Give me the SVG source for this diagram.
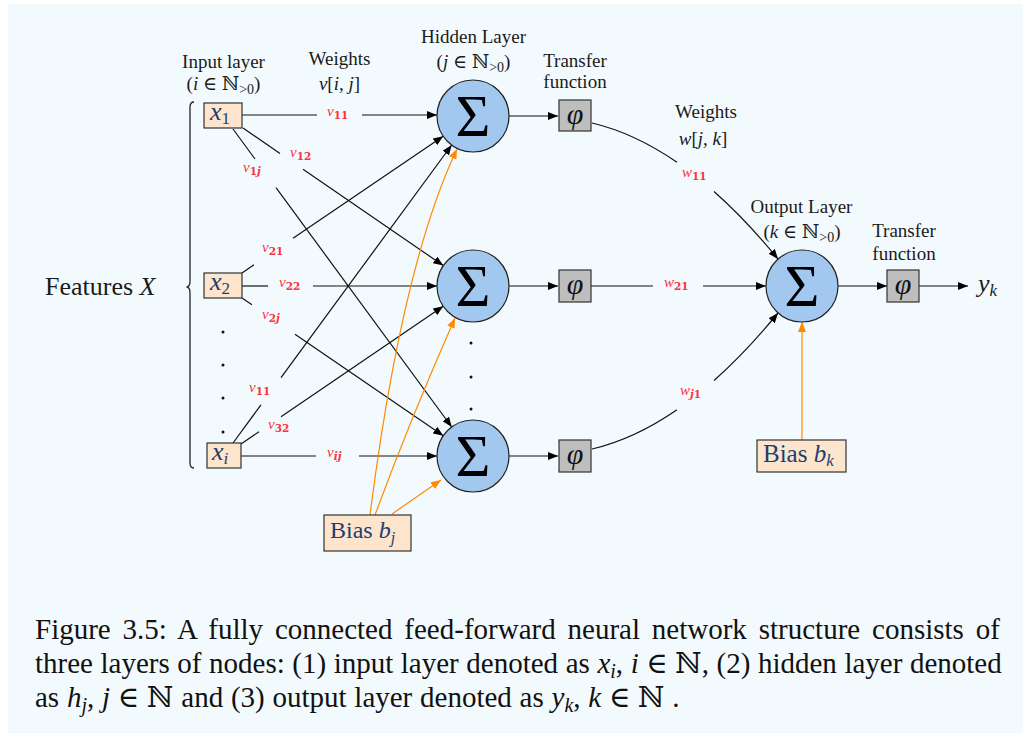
<svg xmlns="http://www.w3.org/2000/svg" width="1023" height="733" viewBox="0 0 1023 733">
  <defs>
    <style>
      .txt { font-family: "Liberation Serif", "DejaVu Serif", serif; fill: #1a1a1a; }
      .hd { font-size: 19px; text-anchor: middle; }
      .it { font-style: italic; }
      .node-in { fill: #fde4cc; stroke: #333; stroke-width: 1.2; }
      .node-h { fill: #a3c8f0; stroke: #222; stroke-width: 1.2; }
      .node-phi { fill: #bebebe; stroke: #333; stroke-width: 1.2; }
      .sig { font-family: "Liberation Serif", "DejaVu Serif", serif; font-size: 60px; text-anchor: middle; fill: #000; }
      .phi { font-family: "Liberation Serif", "DejaVu Serif", serif; font-size: 30px; font-style: italic; text-anchor: middle; fill: #111; }
      .blue { font-family: "Liberation Serif", "DejaVu Serif", serif; fill: #1b3f70; }
      .wl { font-family: "Liberation Serif", "DejaVu Serif", serif; font-size: 15px; font-style: italic; fill: #fa3340; }
      .ws { font-family: "DejaVu Serif", serif; font-size: 10.5px; font-weight: bold; font-style: normal; }
      .wsi { font-family: "DejaVu Serif", serif; font-size: 10.5px; font-weight: bold; font-style: italic; }
      .edge { fill: none; stroke: #111; stroke-width: 1.2; }
      .bias { fill: none; stroke: #ff8a00; stroke-width: 1.2; }
      .cap { font-family: "Liberation Serif", "DejaVu Serif", serif; font-size: 29px; fill: #111; }
    </style>
    <marker id="ah" viewBox="0 0 10 8" refX="10" refY="4" markerWidth="10" markerHeight="8" markerUnits="userSpaceOnUse" orient="auto">
      <path d="M0,0 L10,4 L0,8 z" fill="#000"/>
    </marker>
    <marker id="aho" viewBox="0 0 10 8" refX="10" refY="4" markerWidth="10" markerHeight="8" markerUnits="userSpaceOnUse" orient="auto">
      <path d="M0,0 L10,4 L0,8 z" fill="#ff8a00"/>
    </marker>
  </defs>

  <!-- page panel -->
  <rect x="0" y="0" width="1023" height="733" fill="#ffffff"/>
  <rect x="8" y="4" width="1015" height="729" fill="#f3fafd"/>

  <!-- column headers -->
  <g id="headers" class="txt">
    <text class="txt hd" x="223.5" y="68">Input layer</text>
    <text class="txt hd" x="223.5" y="90">(<tspan class="it">i</tspan> ∈ ℕ<tspan font-size="14" dy="4">&gt;0</tspan><tspan dy="-4">)</tspan></text>
    <text class="txt hd" x="339.5" y="65">Weights</text>
    <text class="txt hd" x="339.5" y="90"><tspan class="it">v</tspan>[<tspan class="it">i, j</tspan>]</text>
    <text class="txt hd" x="473.5" y="43">Hidden Layer</text>
    <text class="txt hd" x="473.5" y="68">(<tspan class="it">j</tspan> ∈ ℕ<tspan font-size="14" dy="4">&gt;0</tspan><tspan dy="-4">)</tspan></text>
    <text class="txt hd" x="575" y="67">Transfer</text>
    <text class="txt hd" x="575" y="88">function</text>
    <text class="txt hd" x="706" y="118">Weights</text>
    <text class="txt hd" x="703" y="145"><tspan class="it">w</tspan>[<tspan class="it">j, k</tspan>]</text>
    <text class="txt hd" x="801.5" y="213">Output Layer</text>
    <text class="txt hd" x="802" y="238">(<tspan class="it">k</tspan> ∈ ℕ<tspan font-size="14" dy="4">&gt;0</tspan><tspan dy="-4">)</tspan></text>
    <text class="txt hd" x="904" y="237">Transfer</text>
    <text class="txt hd" x="904" y="260">function</text>
  </g>

  <!-- feature brace -->
  <g id="features">
    <text class="txt" x="45" y="295" font-size="26">Features <tspan class="it">X</tspan></text>
    <path d="M194,102 Q190,102 190,107 L190,281 Q190,287 186.5,287 Q190,287 190,293 L190,463 Q190,468 194,468" fill="none" stroke="#222" stroke-width="1.3"/>
  </g>

  <!-- connectors -->
  <g id="connectors">
    <!-- input to hidden -->
    <path class="edge" d="M242,115 L317,115"/>
    <path class="edge" d="M362,115 L437,115" marker-end="url(#ah)"/>
    <path class="edge" d="M243,128 L280,153.4"/>
    <path class="edge" d="M303,169.2 L443.3,265.6" marker-end="url(#ah)"/>
    <path class="edge" d="M233,129 L255,159"/>
    <path class="edge" d="M276,187.6 L451.7,427" marker-end="url(#ah)"/>

    <path class="edge" d="M242,273 L254,264.8"/>
    <path class="edge" d="M293,238.3 L443.2,136.2" marker-end="url(#ah)"/>
    <path class="edge" d="M242,286 L268,286"/>
    <path class="edge" d="M313,286 L437,286" marker-end="url(#ah)"/>
    <path class="edge" d="M242,298 L252,304.8"/>
    <path class="edge" d="M295,334.3 L443.3,435.7" marker-end="url(#ah)"/>

    <path class="edge" d="M233,443 L261,404.8"/>
    <path class="edge" d="M281,377.6 L451.7,145" marker-end="url(#ah)"/>
    <path class="edge" d="M241,444 L259,431.7"/>
    <path class="edge" d="M281,416.8 L443.2,306.3" marker-end="url(#ah)"/>
    <path class="edge" d="M241,456 L316,456"/>
    <path class="edge" d="M359,456 L437,456" marker-end="url(#ah)"/>

    <!-- hidden to transfer -->
    <path class="edge" d="M509,116 L558,116" marker-end="url(#ah)"/>
    <path class="edge" d="M509,286 L558,286" marker-end="url(#ah)"/>
    <path class="edge" d="M509,456 L558,456" marker-end="url(#ah)"/>

    <!-- transfer to output -->
    <path class="edge" d="M592,123 Q634.5,133 677,162.3"/>
    <path class="edge" d="M714,191.5 Q746,219.8 778,259" marker-end="url(#ah)"/>
    <path class="edge" d="M591,286 L653,286"/>
    <path class="edge" d="M703,286 L766,286" marker-end="url(#ah)"/>
    <path class="edge" d="M592,449 Q634.5,439 677,409.7"/>
    <path class="edge" d="M714,380.5 Q746,352.2 778,313" marker-end="url(#ah)"/>

    <!-- output side -->
    <path class="edge" d="M838,286 L887,286" marker-end="url(#ah)"/>
    <path class="edge" d="M919,286 L968,286" marker-end="url(#ah)"/>

    <!-- bias inputs -->
    <path class="bias" d="M370,515 Q402,265 457,149" marker-end="url(#aho)"/>
    <path class="bias" d="M375,515 Q410,420 455,318" marker-end="url(#aho)"/>
    <path class="bias" d="M392,514 L441,480" marker-end="url(#aho)"/>
    <path class="bias" d="M802,440 L802,322" marker-end="url(#aho)"/>
  </g>

  <!-- weight labels -->
  <g id="weight-labels">
    <text class="wl" x="327" y="116">v<tspan class="ws" dy="3">11</tspan></text>
    <text class="wl" x="290" y="157">v<tspan class="ws" dy="3">12</tspan></text>
    <text class="wl" x="243" y="172">v<tspan class="ws" dy="3">1</tspan><tspan class="wsi">j</tspan></text>
    <text class="wl" x="262" y="252">v<tspan class="ws" dy="3">21</tspan></text>
    <text class="wl" x="279" y="287">v<tspan class="ws" dy="3">22</tspan></text>
    <text class="wl" x="262" y="319">v<tspan class="ws" dy="3">2</tspan><tspan class="wsi">j</tspan></text>
    <text class="wl" x="249" y="392">v<tspan class="ws" dy="3">11</tspan></text>
    <text class="wl" x="268" y="429">v<tspan class="ws" dy="3">32</tspan></text>
    <text class="wl" x="327" y="457">v<tspan class="wsi" dy="3">ij</tspan></text>
    <text class="wl" x="682" y="177">w<tspan class="ws" dy="3">11</tspan></text>
    <text class="wl" x="664" y="287">w<tspan class="ws" dy="3">21</tspan></text>
    <text class="wl" x="680" y="395">w<tspan class="wsi" dy="3">j</tspan><tspan class="ws">1</tspan></text>
  </g>

  <!-- input nodes -->
  <g id="in1">
    <rect class="node-in" x="204" y="103" width="38" height="25"/>
    <text class="blue it" x="210" y="120" font-size="26">x<tspan font-style="normal" font-size="17" dy="4">1</tspan></text>
  </g>
  <g id="in2">
    <rect class="node-in" x="204" y="273" width="38" height="25"/>
    <text class="blue it" x="210" y="290" font-size="26">x<tspan font-style="normal" font-size="17" dy="4">2</tspan></text>
  </g>
  <g id="ini">
    <rect class="node-in" x="207" y="443" width="34" height="25"/>
    <text class="blue it" x="212" y="460" font-size="26">x<tspan font-size="17" dy="4">i</tspan></text>
  </g>
  <g id="input-dots" fill="#111">
    <circle cx="223" cy="332" r="1.5"/>
    <circle cx="223" cy="365" r="1.5"/>
    <circle cx="223" cy="398" r="1.5"/>
    <circle cx="223" cy="432" r="1.5"/>
  </g>

  <!-- hidden nodes -->
  <g id="h1">
    <circle class="node-h" cx="473" cy="116" r="36"/>
    <text class="sig" x="473" y="136">Σ</text>
  </g>
  <g id="h2">
    <circle class="node-h" cx="473" cy="286" r="36"/>
    <text class="sig" x="473" y="306">Σ</text>
  </g>
  <g id="h3">
    <circle class="node-h" cx="473" cy="456" r="36"/>
    <text class="sig" x="473" y="476">Σ</text>
  </g>
  <g id="hidden-dots" fill="#111">
    <circle cx="471" cy="343" r="1.5"/>
    <circle cx="471" cy="377" r="1.5"/>
    <circle cx="471" cy="409" r="1.5"/>
  </g>

  <!-- transfer functions -->
  <g id="phi1">
    <rect class="node-phi" x="559" y="100" width="32" height="31"/>
    <text class="phi" x="575" y="124">φ</text>
  </g>
  <g id="phi2">
    <rect class="node-phi" x="559" y="270" width="32" height="32"/>
    <text class="phi" x="575" y="294">φ</text>
  </g>
  <g id="phi3">
    <rect class="node-phi" x="559" y="440" width="32" height="32"/>
    <text class="phi" x="575" y="464">φ</text>
  </g>

  <!-- output node -->
  <g id="out">
    <circle class="node-h" cx="802" cy="286" r="36"/>
    <text class="sig" x="802" y="306">Σ</text>
  </g>
  <g id="phi-out">
    <rect class="node-phi" x="887" y="270" width="32" height="32"/>
    <text class="phi" x="903" y="294">φ</text>
  </g>
  <g id="yk">
    <text class="txt it" x="978" y="292" font-size="26">y<tspan font-size="17" dy="4">k</tspan></text>
  </g>

  <!-- bias nodes -->
  <g id="bias-j">
    <rect class="node-in" x="324" y="515" width="87" height="36"/>
    <text class="blue" x="330" y="538" font-size="24">Bias <tspan class="it">b</tspan><tspan class="it" font-size="16" dy="5">j</tspan></text>
  </g>
  <g id="bias-k">
    <rect class="node-in" x="757" y="440" width="89" height="32"/>
    <text class="blue" x="763" y="462" font-size="25">Bias <tspan class="it">b</tspan><tspan class="it" font-size="17" dy="4">k</tspan></text>
  </g>

  <!-- caption (justified with word spacing) -->
  <g id="caption">
    <text class="cap" x="35" y="639" word-spacing="4.6">Figure 3.5: A fully connected feed-forward neural network structure consists of</text>
    <text class="cap" x="35" y="673" word-spacing="0.3">three layers of nodes: (1) input layer denoted as <tspan class="it">x</tspan><tspan class="it" font-size="20" dy="5">i</tspan><tspan dy="-5">, </tspan><tspan class="it">i</tspan> ∈ ℕ, (2) hidden layer denoted</text>
    <text class="cap" x="35" y="707" word-spacing="0.5">as <tspan class="it">h</tspan><tspan class="it" font-size="20" dy="5">j</tspan><tspan dy="-5">, </tspan><tspan class="it">j</tspan> ∈ ℕ and (3) output layer denoted as <tspan class="it">y</tspan><tspan class="it" font-size="20" dy="5">k</tspan><tspan dy="-5">, </tspan><tspan class="it">k</tspan> ∈ ℕ .</text>
  </g>
</svg>
